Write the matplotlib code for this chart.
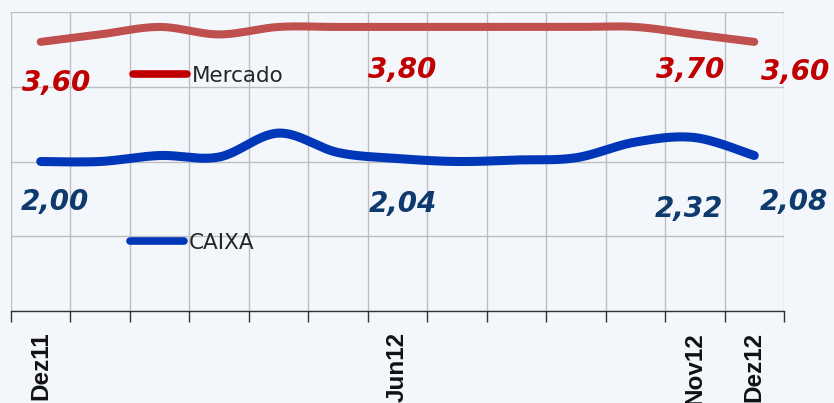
import numpy as np
import matplotlib
matplotlib.use("Agg")
import matplotlib.pyplot as plt
from matplotlib.lines import Line2D

# ---- data ----
months = ["Dez11", "Jan12", "Fev12", "Mar12", "Abr12", "Mai12", "Jun12",
          "Jul12", "Ago12", "Set12", "Out12", "Nov12", "Dez12"]
shown_labels = ["Dez11", "", "", "", "", "", "Jun12", "", "", "", "", "Nov12", "Dez12"]
mercado = [3.60, 3.70, 3.80, 3.70, 3.80, 3.80, 3.80, 3.80, 3.80, 3.80, 3.80, 3.70, 3.60]
caixa = [2.00, 2.00, 2.08, 2.06, 2.38, 2.12, 2.04, 2.00, 2.02, 2.05, 2.26, 2.32, 2.08]
label_idx = [0, 6, 11, 12]

BG = "#F3F7FC"
RED_LINE = "#C0504D"
RED_TXT = "#C00000"
BLUE_LINE = "#0036B8"
BLUE_TXT = "#0F3A6E"


def smooth(xs, ys, n=30):
    """Excel-like smoothed line (Catmull-Rom via cubic Bezier) through the points."""
    p = np.column_stack([xs, ys]).astype(float)
    out = []
    for i in range(len(p) - 1):
        p0 = p[i - 1] if i > 0 else p[i]
        p1, p2 = p[i], p[i + 1]
        p3 = p[i + 2] if i + 2 < len(p) else p[i + 1]
        c1 = p1 + (p2 - p0) / 6.0
        c2 = p2 - (p3 - p1) / 6.0
        t = np.linspace(0, 1, n)[:, None]
        seg = ((1 - t) ** 3) * p1 + 3 * ((1 - t) ** 2) * t * c1 + 3 * (1 - t) * t ** 2 * c2 + t ** 3 * p2
        out.append(seg if i == 0 else seg[1:])
    s = np.vstack(out)
    return s[:, 0], s[:, 1]


fig = plt.figure(figsize=(8.34, 4.03), dpi=100, facecolor=BG)
ax = fig.add_axes([11 / 834, 92 / 403, (784 - 11) / 834, (311 - 12) / 403])
ax.set_facecolor(BG)

x = np.arange(len(months))
mx, my = smooth(x, mercado)
cx, cy = smooth(x, caixa)
ax.plot(mx, my, color=RED_LINE, lw=5.8, solid_capstyle="round", zorder=3)
ax.plot(cx, cy, color=BLUE_LINE, lw=6.5, solid_capstyle="round", zorder=3)

ax.set_xlim(-0.5, len(months) - 0.5)
ax.set_ylim(0, 4)

# grid
ax.set_yticks([0, 1, 2, 3, 4])
ax.yaxis.set_tick_params(length=0, labelleft=False)
ax.set_xticks(np.arange(-0.5, len(months), 1.0), minor=True)
ax.set_xticks(x)
ax.set_xticklabels(shown_labels, rotation=90, fontsize=17.5, fontweight="bold",
                   family="Liberation Sans", va="top", color="#111111")
ax.tick_params(axis="x", which="major", length=0, pad=15)
ax.tick_params(axis="x", which="minor", length=8, width=1.0, color="#333333", direction="out")
ax.grid(True, axis="y", which="major", color="#BEBEBE", lw=1.0, zorder=0)
ax.grid(True, axis="x", which="minor", color="#BEBEBE", lw=1.0, zorder=0)
ax.grid(False, axis="x", which="major")
for s in ["top", "left", "right"]:
    ax.spines[s].set_visible(False)
ax.spines["bottom"].set_color("#333333")
ax.spines["bottom"].set_linewidth(1.0)
ax.spines["bottom"].set_zorder(4)

# data labels
merc_off = [(15, -41), (5, -43), (-5, -36), (41, -30)]
caixa_off = [(14, -41), (5, -45), (-6, -71), (40, -46)]
lblfont = dict(fontsize=20, fontweight="bold", style="italic", family="DejaVu Sans",
               ha="center", va="center")
for i, off in zip(label_idx, merc_off):
    ax.annotate(f"{mercado[i]:.2f}".replace(".", ","), (x[i], mercado[i]), xytext=off,
                textcoords="offset pixels", color=RED_TXT, annotation_clip=False, **lblfont)
for i, off in zip(label_idx, caixa_off):
    ax.annotate(f"{caixa[i]:.2f}".replace(".", ","), (x[i], caixa[i]), xytext=off,
                textcoords="offset pixels", color=BLUE_TXT, annotation_clip=False, **lblfont)

# legend entries (placed separately, as in the original)
h1 = Line2D([], [], color=RED_TXT, lw=5.5, solid_capstyle="round")
h2 = Line2D([], [], color=BLUE_LINE, lw=5.5, solid_capstyle="round")
leg_kw = dict(frameon=False, loc="center left", bbox_transform=fig.transFigure,
              handlelength=2.5, handletextpad=0.25, borderpad=0, borderaxespad=0,
              prop={"family": "DejaVu Sans", "size": 15.5}, labelcolor="#262626")
leg1 = ax.legend([h1], ["Mercado"], bbox_to_anchor=(133 / 834, 1 - 76 / 403), **leg_kw)
ax.add_artist(leg1)
leg2 = ax.legend([h2], ["CAIXA"], bbox_to_anchor=(130 / 834, 1 - 243 / 403), **leg_kw)

fig.savefig("out.png", dpi=100, facecolor=BG)
